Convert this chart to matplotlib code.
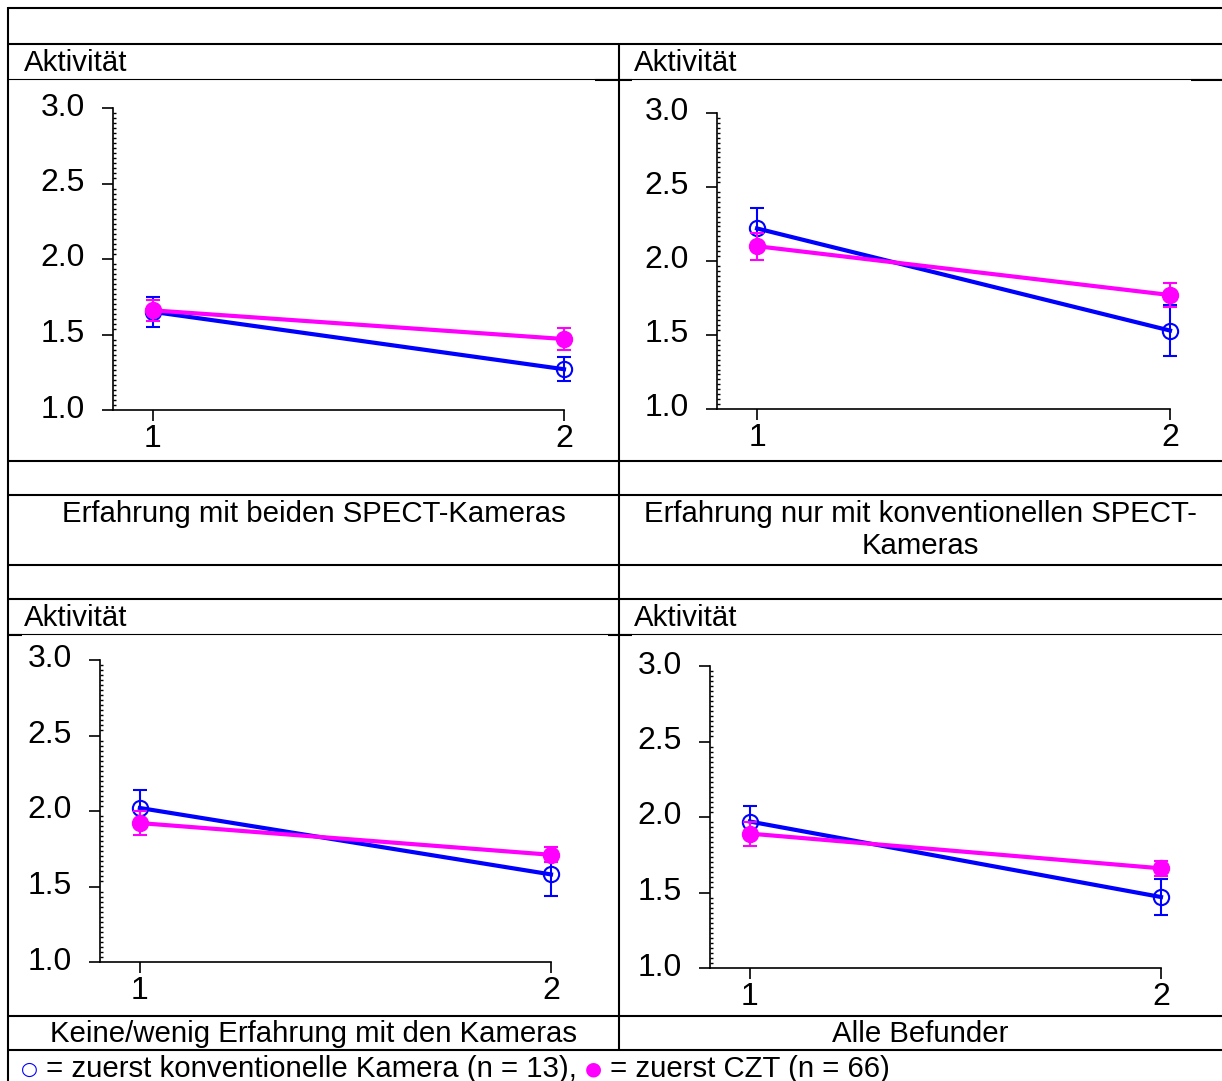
import matplotlib
matplotlib.use('Agg')
import matplotlib.pyplot as plt
import numpy as np
from matplotlib.ticker import FixedLocator
from matplotlib.transforms import ScaledTranslation

plt.rcParams['font.family'] = ['Liberation Sans', 'DejaVu Sans']

W, H = 1222, 1081
BLUE = '#0000ff'
MAGENTA = '#ff00ff'

# ---------------- data ----------------
x_cond = [1, 2]
x_labels = ['1', '2']
y_ticks = [1.0, 1.5, 2.0, 2.5, 3.0]
y_labels = ['1.0', '1.5', '2.0', '2.5', '3.0']

panel_titles = ["Erfahrung mit beiden SPECT-Kameras",
                "Erfahrung nur mit konventionellen SPECT-\nKameras",
                "Keine/wenig Erfahrung mit den Kameras",
                "Alle Befunder"]

# conventional camera first (open blue circles)
conv_both = [1.65, 1.27]
conv_both_err = [0.10, 0.08]
conv_convonly = [2.22, 1.53]
conv_convonly_err = [0.14, 0.17]
conv_little = [2.02, 1.58]
conv_little_err = [0.12, 0.14]
conv_all = [1.97, 1.47]
conv_all_err = [0.10, 0.12]

# CZT first (filled magenta circles)
czt_both = [1.66, 1.47]
czt_both_err = [0.07, 0.07]
czt_convonly = [2.10, 1.77]
czt_convonly_err = [0.09, 0.08]
czt_little = [1.92, 1.71]
czt_little_err = [0.08, 0.05]
czt_all = [1.89, 1.66]
czt_all_err = [0.08, 0.05]

fig = plt.figure(figsize=(W / 100, H / 100), dpi=100)
fig.patch.set_facecolor('white')

# background axes in pixel coordinates for the table grid and texts
bg = fig.add_axes([0, 0, 1, 1], zorder=0)
bg.set_xlim(0, W)
bg.set_ylim(H, 0)
bg.axis('off')

thick = 1.5
thin = 0.8
# horizontal rules
for y, lw in [(8, thick), (44, thick), (79, thin), (461, thick), (495, thick),
              (565, thick), (599, thick), (634, thin), (1016, thick), (1050, thick)]:
    bg.plot([8, W], [y, y], color='black', lw=lw, solid_capstyle='butt')
# small thicker pieces of the sub-header rules
bg.plot([595, 632], [79.5, 79.5], color='black', lw=thick, solid_capstyle='butt')
bg.plot([1191, W], [79.5, 79.5], color='black', lw=thick, solid_capstyle='butt')
bg.plot([8, 22], [634.5, 634.5], color='black', lw=thick, solid_capstyle='butt')
bg.plot([608, 632], [634.5, 634.5], color='black', lw=thick, solid_capstyle='butt')
# vertical rules
bg.plot([8, 8], [7, H], color='black', lw=thick, solid_capstyle='butt')
bg.plot([619, 619], [44, 1050], color='black', lw=thick, solid_capstyle='butt')

FS = 21.2
TFS = 23
for (tx, ty) in [(24, 63), (634, 63), (24, 618), (634, 618)]:
    bg.text(tx, ty, "Aktivität", fontsize=FS, ha='left', va='center')

bg.text(313.5, 514, panel_titles[0], fontsize=FS, ha='center', va='center')
bg.text(920.5, 530, panel_titles[1], fontsize=FS, ha='center', va='center',
        linespacing=1.15, multialignment='center')
bg.text(313.5, 1034, panel_titles[2], fontsize=FS, ha='center', va='center')
bg.text(920.5, 1034, panel_titles[3], fontsize=FS, ha='center', va='center')

# legend line
t1 = bg.text(21, 1069, "○", fontsize=14, color=BLUE, ha='left', va='center',
             family=['DejaVu Sans'])
t2 = bg.annotate(" = zuerst konventionelle Kamera (n = 13), ", xy=(1, 0.5),
                 xycoords=t1, fontsize=FS, ha='left', va='center')
t3 = bg.annotate("●", xy=(1, 0.5), xycoords=t2, fontsize=14, color=MAGENTA,
                 ha='left', va='center', family=['DejaVu Sans'])
t4 = bg.annotate(" = zuerst CZT (n = 66)", xy=(1, 0.5), xycoords=t3,
                 fontsize=FS, ha='left', va='center')


def add_panel(left, right, top, bottom, conv, conv_err, czt, czt_err):
    ax = fig.add_axes([left / W, 1 - bottom / H, (right - left) / W, (bottom - top) / H],
                      zorder=2)
    ax.patch.set_alpha(0)
    c1 = ax.errorbar(x_cond, conv, yerr=conv_err, color=BLUE, lw=3, marker='o',
                     ms=11, mfc='none', mec=BLUE, mew=1.5, capsize=5,
                     elinewidth=1.5, capthick=1.5, zorder=3)
    c2 = ax.errorbar(x_cond, czt, yerr=czt_err, color=MAGENTA, lw=3, marker='o',
                     ms=11.5, mfc=MAGENTA, mec=MAGENTA, capsize=5,
                     elinewidth=1.5, capthick=1.5, zorder=4)
    for cont in (c1, c2):
        for art in cont.get_children():
            art.set_clip_on(False)
    ax.set_xlim(0.903, 2.0)
    ax.set_ylim(1.0, 3.0)
    for s in ('top', 'right'):
        ax.spines[s].set_visible(False)
    for s in ('left', 'bottom'):
        ax.spines[s].set_linewidth(1.2)
    ax.set_xticks(x_cond)
    ax.set_xticklabels(x_labels)
    ax.set_yticks(y_ticks)
    ax.set_yticklabels(y_labels)
    ax.yaxis.set_minor_locator(FixedLocator(np.linspace(1.0, 3.0, 61)))
    ax.tick_params(axis='y', which='major', direction='out', length=8, width=1.2,
                   pad=12, labelsize=TFS)
    ax.tick_params(axis='y', which='minor', direction='in', length=2.5, width=1.0)
    ax.tick_params(axis='x', which='major', direction='out', length=8, width=1.2,
                   pad=2, labelsize=TFS)
    off = ScaledTranslation(0, 4 / 100, fig.dpi_scale_trans)
    for lab in ax.get_yticklabels():
        lab.set_transform(lab.get_transform() + off)
    return ax


add_panel(113, 564, 108, 410, conv_both, conv_both_err, czt_both, czt_both_err)
add_panel(717, 1170, 113, 409, conv_convonly, conv_convonly_err, czt_convonly, czt_convonly_err)
add_panel(100, 551, 660, 962, conv_little, conv_little_err, czt_little, czt_little_err)
add_panel(710, 1161, 666, 968, conv_all, conv_all_err, czt_all, czt_all_err)

fig.savefig('out.png', dpi=100, facecolor='white')
